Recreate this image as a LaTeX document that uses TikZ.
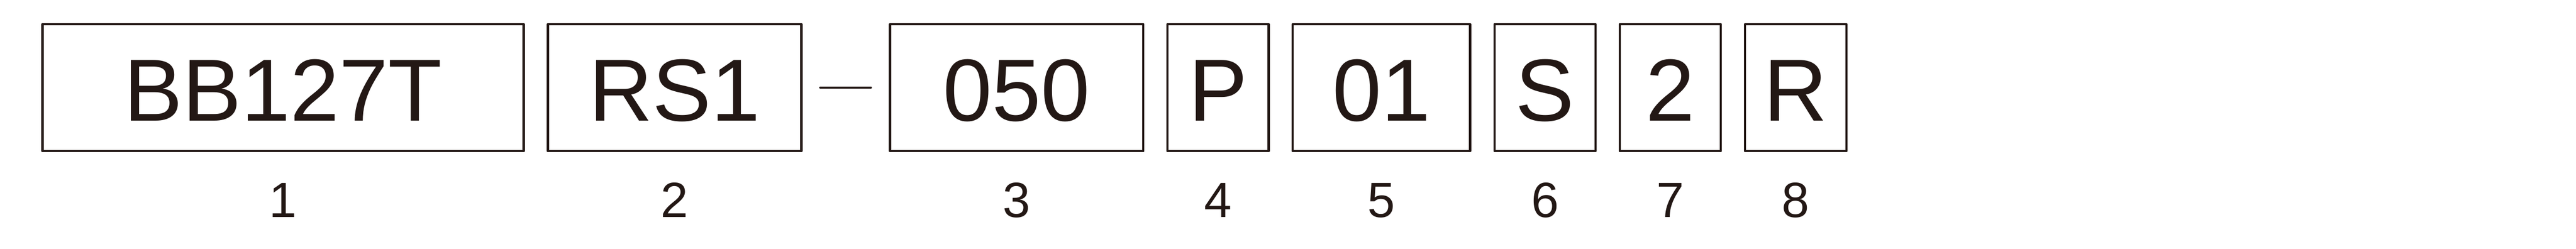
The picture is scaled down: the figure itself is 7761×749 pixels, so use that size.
\documentclass[tikz,border=0pt]{standalone}
\usepackage{fontspec}
\setmainfont{Liberation Sans}
\definecolor{ink}{HTML}{231815}
\begin{document}
\begin{tikzpicture}[x=0.01cm,y=-0.01cm,
  codebox/.style={draw=ink, line width=0.067cm, line join=round, inner sep=0pt, minimum height=3.823cm,
    text height=2.2cm, text depth=0.198cm, text=ink,
    font=\fontsize{75.5pt}{80pt}\selectfont},
  lab/.style={text=ink, inner sep=0pt, anchor=base, font=\fontsize{42.4pt}{46pt}\selectfont},
  dashline/.style={draw=ink, line width=0.073cm, line cap=round}]
\useasboundingbox (0,0) rectangle (7761,749);
\node[codebox, minimum width=14.492cm] (b1) at (852.9,263.9) {BB127T};
\node[codebox, minimum width=7.632cm] (b2) at (2032.6,263.9) {RS1};
\node[codebox, minimum width=7.626cm] (b3) at (3063.1,263.9) {050};
\node[codebox, minimum width=3.05cm] (b4) at (3669.8,263.9) {P};
\node[codebox, minimum width=5.339cm] (b5) at (4162,263.9) {01};
\node[codebox, minimum width=3.042cm] (b6) at (4654.9,263.9) {S};
\node[codebox, minimum width=3.042cm] (b7) at (5032.2,263.9) {2};
\node[codebox, minimum width=3.052cm] (b8) at (5410.2,263.9) {R};
\coordinate (d1) at (2471.6,263.7);
\coordinate (d2) at (2623.4,263.7);
\draw[dashline] (d1) -- (d2);
\coordinate (lbl) at (0,654);
\node[lab] (l1) at (b1.center |- lbl) {1};
\node[lab] (l2) at (b2.center |- lbl) {2};
\node[lab] (l3) at (b3.center |- lbl) {3};
\node[lab] (l4) at (b4.center |- lbl) {4};
\node[lab] (l5) at (b5.center |- lbl) {5};
\node[lab] (l6) at (b6.center |- lbl) {6};
\node[lab] (l7) at (b7.center |- lbl) {7};
\node[lab] (l8) at (b8.center |- lbl) {8};
\end{tikzpicture}
\end{document}
